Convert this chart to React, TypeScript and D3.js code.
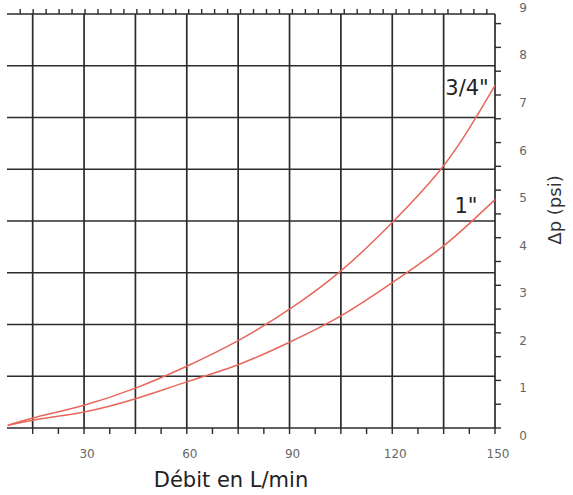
import { useEffect, useRef } from "react";
import * as d3 from "d3";

// flow (L/min) and pressure drop (psi)
const flow = [7.7, 15, 30, 45, 60, 75, 90, 105, 120, 135, 142.6, 150];
const dpThreeQuarter = [0.06, 0.22, 0.46, 0.82, 1.29, 1.81, 2.48, 3.26, 4.3, 5.45, 6.3, 7.2];
const dpOneInch = [0.05, 0.18, 0.31, 0.6, 0.98, 1.3, 1.8, 2.32, 3.05, 3.8, 4.3, 4.8];

const xTickLabels = [30, 60, 90, 120, 150];
const psiTickLabels = [0, 1, 2, 3, 4, 5, 6, 7, 8, 9];
const KPA_PER_PSI = 6.895;
const LPM_PER_GPM = 3.785;

const series = [
  { label: '3/4"', values: dpThreeQuarter },
  { label: '1"', values: dpOneInch },
];

export default function App() {
  const svgRef = useRef<SVGSVGElement>(null);
  const width = 573;
  const height = 495;

  useEffect(() => {
    if (!svgRef.current) return;
    const svg = d3.select(svgRef.current);
    svg.selectAll("*").remove();

    const left = 7;
    const right = 495;
    const top = 14;
    const bottom = 428;

    const x = d3.scaleLinear().domain([7.5, 150]).range([left, right]);
    const yKpa = d3.scaleLinear().domain([0, 60]).range([bottom, top]);
    const yPsi = (p: number) => yKpa(p * KPA_PER_PSI);

    const gridColor = "#2b2b2b";

    // grid
    const g = svg.append("g");
    g.selectAll(".vgrid")
      .data(d3.range(15, 150, 15))
      .enter()
      .append("line")
      .attr("x1", (d) => x(d))
      .attr("x2", (d) => x(d))
      .attr("y1", top)
      .attr("y2", bottom)
      .attr("stroke", gridColor)
      .attr("stroke-width", 1.7);

    g.selectAll(".hgrid")
      .data(d3.range(7.5, 60, 7.5))
      .enter()
      .append("line")
      .attr("x1", left)
      .attr("x2", right)
      .attr("y1", (d) => yKpa(d))
      .attr("y2", (d) => yKpa(d))
      .attr("stroke", gridColor)
      .attr("stroke-width", 1.7);

    // frame: top, bottom, right
    g.append("line").attr("x1", left).attr("x2", right).attr("y1", top).attr("y2", top)
      .attr("stroke", gridColor).attr("stroke-width", 1.7);
    g.append("line").attr("x1", left).attr("x2", right).attr("y1", bottom).attr("y2", bottom)
      .attr("stroke", gridColor).attr("stroke-width", 1.7);
    g.append("line").attr("x1", right).attr("x2", right).attr("y1", top).attr("y2", bottom)
      .attr("stroke", gridColor).attr("stroke-width", 1.7);

    // top ticks in US gpm
    g.selectAll(".gpm")
      .data(d3.range(3, 40))
      .enter()
      .append("line")
      .attr("x1", (d) => x(d * LPM_PER_GPM))
      .attr("x2", (d) => x(d * LPM_PER_GPM))
      .attr("y1", top)
      .attr("y2", top - 5)
      .attr("stroke", gridColor)
      .attr("stroke-width", 1.4);

    // bottom ticks every 7.5 L/min
    g.selectAll(".lpm")
      .data(d3.range(15, 150.1, 7.5))
      .enter()
      .append("line")
      .attr("x1", (d) => x(d))
      .attr("x2", (d) => x(d))
      .attr("y1", bottom)
      .attr("y2", bottom + 6)
      .attr("stroke", gridColor)
      .attr("stroke-width", 1.4);

    // right ticks every 0.5 psi
    g.selectAll(".psi")
      .data(d3.range(0, 8.6, 0.5))
      .enter()
      .append("line")
      .attr("x1", right)
      .attr("x2", right + 6)
      .attr("y1", (d) => yPsi(d))
      .attr("y2", (d) => yPsi(d))
      .attr("stroke", gridColor)
      .attr("stroke-width", 1.4);

    const labelFont = "'DejaVu Sans', sans-serif";

    // bottom labels
    g.selectAll(".xl")
      .data(xTickLabels)
      .enter()
      .append("text")
      .attr("x", (d) => x(d) + 3)
      .attr("y", 458)
      .attr("text-anchor", "middle")
      .attr("font-family", labelFont)
      .attr("font-size", 12)
      .attr("fill", "#666")
      .text((d) => d);

    // right labels (psi)
    g.selectAll(".yl")
      .data(psiTickLabels)
      .enter()
      .append("text")
      .attr("x", 523)
      .attr("y", (d) => yPsi(d) + 12)
      .attr("text-anchor", "middle")
      .attr("font-family", labelFont)
      .attr("font-size", 12)
      .attr("fill", "#666")
      .text((d) => d);

    // curves
    const line = d3
      .line<number>()
      .x((_, i) => x(flow[i]))
      .y((d) => yPsi(d))
      .curve(d3.curveBasis);

    g.selectAll(".curve")
      .data(series)
      .enter()
      .append("path")
      .attr("d", (d) => line(d.values))
      .attr("fill", "none")
      .attr("stroke", "#e8675a")
      .attr("stroke-width", 1.5);

    // curve labels
    g.append("text")
      .attr("x", 467)
      .attr("y", 95)
      .attr("text-anchor", "middle")
      .attr("font-family", labelFont)
      .attr("font-size", 21)
      .attr("fill", "#222")
      .text(series[0].label);
    g.append("text")
      .attr("x", 466)
      .attr("y", 213)
      .attr("text-anchor", "middle")
      .attr("font-family", labelFont)
      .attr("font-size", 21)
      .attr("fill", "#222")
      .text(series[1].label);

    // axis titles
    g.append("text")
      .attr("x", 231)
      .attr("y", 487)
      .attr("text-anchor", "middle")
      .attr("font-family", labelFont)
      .attr("font-size", 21)
      .attr("fill", "#222")
      .text("Débit en L/min");

    g.append("text")
      .attr("transform", "translate(561,210) rotate(-90)")
      .attr("text-anchor", "middle")
      .attr("font-family", labelFont)
      .attr("font-size", 18)
      .attr("fill", "#333")
      .text("Δp (psi)");
  }, []);

  return (
    <svg
      ref={svgRef}
      width={width}
      height={height}
      style={{ position: "absolute", left: 0, top: 0, background: "#fff" }}
    ></svg>
  );
}
